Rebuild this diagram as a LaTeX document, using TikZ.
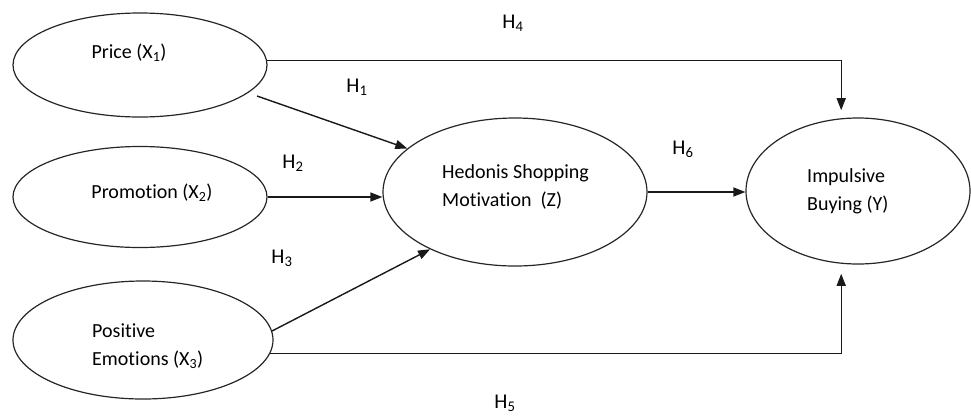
\documentclass[tikz,border=0pt]{standalone}
\usepackage{fontspec}
\setmainfont[Ligatures=NoCommon]{Carlito}
\usetikzlibrary{shapes.geometric,arrows.meta}
\begin{document}
\begin{tikzpicture}[x=1pt,y=-1pt,
  ell/.style={draw=black!85,line width=1.2pt,ellipse,inner sep=0pt},
  txt/.style={font=\fontsize{20}{28}\selectfont,inner sep=0pt,align=left},
  hyp/.style={font=\fontsize{21}{24}\selectfont,inner sep=0pt},
  arr/.style={draw=black!90,line width=1.4pt,-{Triangle[length=12pt,width=9pt]}},
  ln/.style={draw=black!90,line width=1.4pt}]
\useasboundingbox (0,0) rectangle (971,416);
% ellipses
\node[ell,minimum width=254pt,minimum height=104pt] (price) at (140,65) {};
\node[ell,minimum width=254pt,minimum height=101pt] (prom) at (140,197) {};
\node[ell,minimum width=260pt,minimum height=118pt] (pe) at (143,340) {};
\node[ell,minimum width=264pt,minimum height=148pt] (hed) at (515,192) {};
\node[ell,minimum width=224pt,minimum height=146pt] (imp) at (858,191) {};
% texts
\node[txt] (tprice) at (129,53) {Price (X\textsubscript{1})};
\node[txt] (tprom) at (152,193) {Promotion (X\textsubscript{2})};
\node[txt,anchor=west] (tpe) at (92,346) {Positive\\Emotions (X\textsubscript{3})};
\node[txt,anchor=west] (thed) at (442,187) {Hedonis Shopping\\Motivation\ \ (Z)};
\node[txt,anchor=west] (timp) at (807,191) {Impulsive\\Buying (Y)};
% hypothesis labels
\node[hyp] (h4) at (513,23) {H\textsubscript{4}};
\node[hyp] (h1) at (357,87) {H\textsubscript{1}};
\node[hyp] (h2) at (293,163) {H\textsubscript{2}};
\node[hyp] (h3) at (282,258) {H\textsubscript{3}};
\node[hyp] (h6) at (683,149) {H\textsubscript{6}};
\node[hyp] (h5) at (505,403) {H\textsubscript{5}};
% connectors
\coordinate (h1s) at (257,96);
\draw[arr,shorten >=8pt] (price.2.7) -| (imp.103.3);
\draw[arr] (h1s) -- (hed.158);
\draw[arr] (prom.east) -- (prom.east -| hed.west);
\draw[arr] (pe.4.4) -- (hed.214);
\draw[arr] (hed.east) -- (hed.east -| imp.west);
\draw[arr,shorten >=10pt] (pe.-6) -| (imp.-103.3);
\end{tikzpicture}
\end{document}
